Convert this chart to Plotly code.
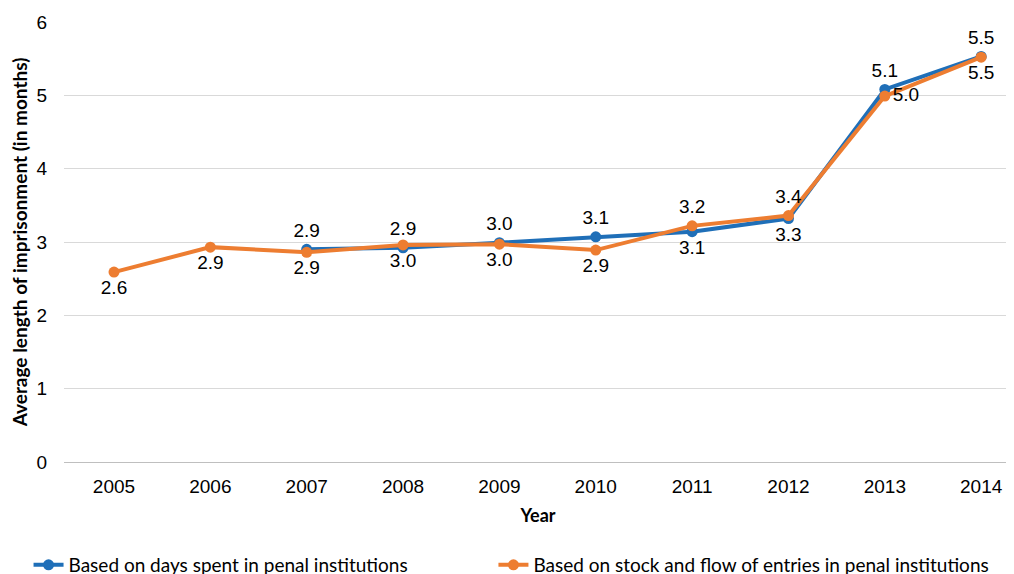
import plotly.graph_objects as go

years = ['2005', '2006', '2007', '2008', '2009', '2010', '2011', '2012', '2013', '2014']
days_spent = [None, None, 2.90, 2.92, 2.99, 3.07, 3.14, 3.32, 5.08, 5.53]
stock_flow = [2.59, 2.93, 2.86, 2.96, 2.97, 2.89, 3.22, 3.36, 4.99, 5.52]

# label placement (styles, kept apart from the data)
blue_pos = ['top center'] * 6 + ['bottom center', 'bottom center', 'top center', 'top center']
orange_pos = ['bottom center'] * 6 + ['top center', 'top center', 'middle right', 'bottom center']

blue = '#1F6FB8'
orange = '#ED7D31'
label_font = dict(family='Liberation Sans, Arial', size=19, color='#000000')
legend_font = dict(family='Lato', size=19, color='#000000')

fig = go.Figure()
fig.add_trace(go.Scatter(
    x=years, y=days_spent, name='Based on days spent in penal institutions',
    mode='lines+markers+text', line=dict(color=blue, width=4),
    marker=dict(size=11, color=blue),
    texttemplate='%{y:.1f}', textposition=blue_pos, textfont=label_font,
    cliponaxis=False, legend='legend', showlegend=True,
))
fig.add_trace(go.Scatter(
    x=years, y=stock_flow, name='Based on stock and flow of entries in penal institutions',
    mode='lines+markers+text', line=dict(color=orange, width=4),
    marker=dict(size=11, color=orange),
    texttemplate='%{y:.1f}', textposition=orange_pos, textfont=label_font,
    cliponaxis=False, legend='legend2', showlegend=True,
))

fig.update_layout(
    width=1014, height=574, showlegend=True,
    margin=dict(l=56, r=10, t=14, b=120, autoexpand=False),
    paper_bgcolor='white', plot_bgcolor='white',
    legend=dict(orientation='h', x=-0.0374, xanchor='left', y=-0.234, yanchor='middle',
                font=legend_font, itemwidth=30),
    legend2=dict(orientation='h', x=0.453, xanchor='left', y=-0.234, yanchor='middle',
                 font=legend_font, itemwidth=30),
    xaxis=dict(type='category', range=[-0.519, 9.32], showgrid=False,
               showline=True, linecolor='#BFBFBF', linewidth=1, ticks='',
               ticklabelstandoff=7,
               tickfont=dict(family='Liberation Sans, Arial', size=19, color='#000000'),
               title=dict(text='<b>Year</b>', standoff=13,
                          font=dict(family='Lato', size=18, color='#000000'))),
    yaxis=dict(range=[0, 6], dtick=1, showgrid=True, gridcolor='#D9D9D9', gridwidth=1,
               zeroline=False, ticks='', ticklabelstandoff=16,
               tickfont=dict(family='Liberation Sans, Arial', size=19, color='#000000'),
               title=dict(text='<b>Average length of imprisonment (in months)</b>', standoff=6,
                          font=dict(family='Lato', size=19, color='#000000'))),
)

fig.write_html('out.html')
